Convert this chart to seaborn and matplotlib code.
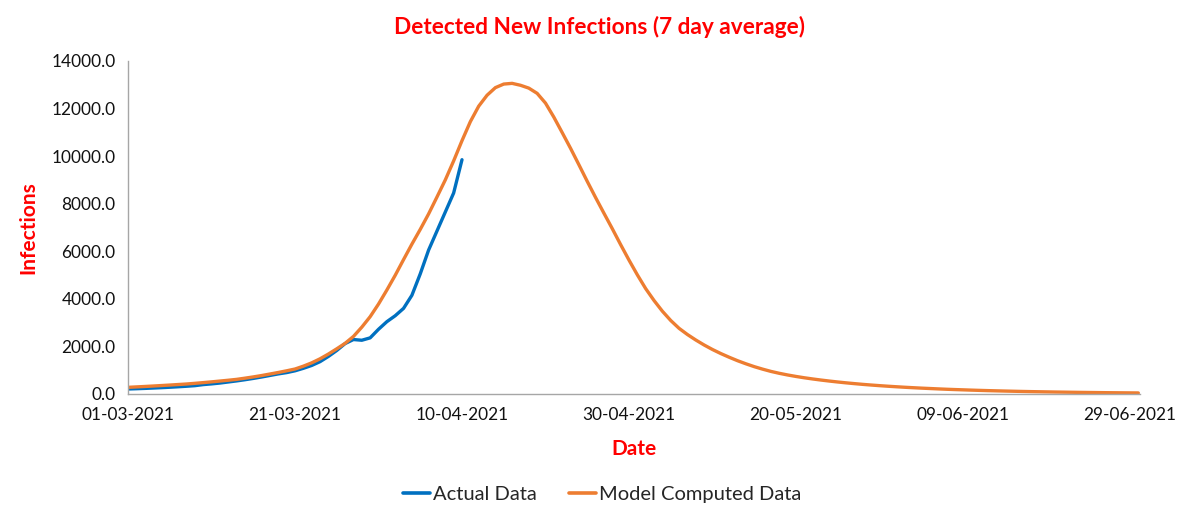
import numpy as np
import pandas as pd
import matplotlib
matplotlib.use("Agg")
import matplotlib.pyplot as plt
import seaborn as sns

# ---- data (days since 01-03-2021) ----
actual_values = [210, 222, 235, 250, 266, 284, 304, 326, 350, 395,
                 425, 460, 505, 550, 600, 655, 715, 780, 845, 900,
                 975, 1080, 1200, 1360, 1580, 1830, 2120, 2290, 2260, 2360,
                 2720, 3040, 3290, 3600, 4150, 5050, 6050, 6850, 7650, 8450,
                 9850]

model_values = [280, 298, 316, 335, 355, 376, 398, 420, 448, 478,
                510, 544, 578, 615, 665, 718, 776, 840, 905, 975,
                1050, 1170, 1310, 1480, 1680, 1900, 2130, 2420, 2810, 3250,
                3780, 4370, 4990, 5650, 6300, 6920, 7570, 8280, 9000, 9800,
                10650, 11450, 12100, 12560, 12880, 13030, 13060, 12980, 12860, 12640,
                12230, 11640, 10990, 10330, 9640, 8940, 8260, 7600, 6950, 6280,
                5630, 5010, 4430, 3930, 3480, 3090, 2760, 2500, 2270, 2060,
                1870, 1700, 1545, 1400, 1270, 1150, 1045, 950, 870, 800,
                738, 682, 632, 586, 544, 505, 469, 436, 405, 377,
                351, 327, 305, 284, 265, 247, 231, 215, 200, 187,
                175, 163, 152, 142, 133, 124, 116, 108, 101, 95,
                89, 83, 78, 73, 68, 64, 60, 56, 53, 50,
                47, 44]

tick_days = [0, 20, 40, 60, 80, 100, 120]
tick_labels = ["01-03-2021", "21-03-2021", "10-04-2021", "30-04-2021",
               "20-05-2021", "09-06-2021", "29-06-2021"]
y_ticks = [0, 2000, 4000, 6000, 8000, 10000, 12000, 14000]

series_names = ["Actual Data", "Model Computed Data"]
colors = ["#0070C0", "#ED7D31"]

df = pd.concat([
    pd.DataFrame({"day": np.arange(len(actual_values)), "value": actual_values,
                  "series": series_names[0]}),
    pd.DataFrame({"day": np.arange(len(model_values)), "value": model_values,
                  "series": series_names[1]}),
])

sns.set_style("white")
plt.rcParams["font.family"] = ["Lato", "DejaVu Sans"]

fig = plt.figure(figsize=(12, 5.21), dpi=100)
ax = fig.add_axes([128 / 1200, 1 - 394 / 521, (1140 - 128) / 1200, (394 - 61) / 521])

sns.lineplot(data=df, x="day", y="value", hue="series", hue_order=series_names,
             palette=colors, linewidth=2.4, ax=ax, legend=True)

ax.set_xlim(0, 121.2)
ax.set_ylim(0, 14000)
ax.set_xticks(tick_days)
ax.set_xticklabels(tick_labels)
ax.set_yticks(y_ticks)
ax.set_yticklabels([f"{v:.1f}" for v in y_ticks])

for s in ["top", "right"]:
    ax.spines[s].set_visible(False)
for s in ["left", "bottom"]:
    ax.spines[s].set_color("#A6A6A6")
    ax.spines[s].set_linewidth(1.0)
ax.tick_params(axis="both", which="both", direction="out", length=5, width=1,
               color="#A6A6A6", labelsize=12.4, labelcolor="#111111", pad=4)

ax.set_xlabel("Date", color="#FF0000", fontsize=15, fontweight="bold", labelpad=12)
ax.set_ylabel("Infections", color="#FF0000", fontsize=15, fontweight="bold", labelpad=9)
fig.text(0.5, 1 - 27 / 521, "Detected New Infections (7 day average)", color="#FF0000",
         fontsize=16.3, fontweight="bold", ha="center", va="center")

leg = ax.legend(loc="center", bbox_to_anchor=(602 / 1200, 1 - 494 / 521),
                bbox_transform=fig.transFigure, ncol=2, frameon=False,
                fontsize=14.5, handlelength=1.35, handletextpad=0.15, columnspacing=1.6)
for line in leg.get_lines():
    line.set_linewidth(2.6)

fig.savefig("out.png", dpi=100)
